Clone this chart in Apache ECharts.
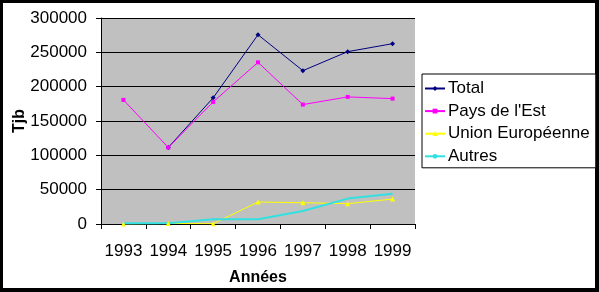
<!DOCTYPE html>
<html>
<head>
<meta charset="utf-8">
<script src="https://cdn.jsdelivr.net/npm/echarts@6/dist/echarts.min.js"></script>
<style>
html,body{margin:0;padding:0;background:#fff;}
#wrap{position:absolute;left:0;top:0;width:599px;height:292px;box-sizing:border-box;border-style:solid;border-color:#000;border-width:3px 4px 4px 3px;}
#chart{position:absolute;left:-3px;top:-3px;width:599px;height:292px;}
</style>
</head>
<body>
<div id="wrap"><div id="chart"></div></div>
<script>
const years = ['1993','1994','1995','1996','1997','1998','1999'];
const total = [null, 111500, 183700, 275600, 223300, 251000, 262600];
const paysEst = [180700, 111400, 177800, 235400, 173900, 185100, 182600];
const unionEuropeenne = [0, 800, 400, 32000, 31000, 29600, 36300];
const autres = [1200, 1200, 7000, 7000, 19000, 37000, 44000];
const yTicks = [0, 50000, 100000, 150000, 200000, 250000, 300000];

const font = 'Liberation Sans, Arial, sans-serif';
const chart = echarts.init(document.getElementById('chart'));
chart.setOption({
  animation: false,
  backgroundColor: 'transparent',
  textStyle: {fontFamily: font, color: '#000'},
  grid: {left: 101, top: 18, right: 184, bottom: 68, show: true, backgroundColor: '#C0C0C0', borderWidth: 0,
    containLabel: false, outerBoundsMode: 'none'},
  legend: {
    orient: 'vertical', left: 422, top: 74,
    backgroundColor: '#fff', borderColor: '#000', borderWidth: 1, borderRadius: 0,
    padding: [6, 6, 3, 2], itemWidth: 20, itemHeight: 6, itemGap: 5.6,
    textStyle: {fontFamily: font, fontSize: 17, color: '#000', padding: [0, 0, 0, -2]},
    data: ['Total', "Pays de l'Est", 'Union Européenne', 'Autres']
  },
  xAxis: {
    type: 'category', data: years, boundaryGap: true,
    name: 'Années', nameLocation: 'middle', nameGap: 46, nameMoveOverlap: false,
    nameTextStyle: {fontFamily: font, fontSize: 16, fontWeight: 'bold', color: '#000'},
    axisLine: {show: true, lineStyle: {color: '#000', width: 1}},
    axisTick: {show: true, inside: false, length: 5, alignWithLabel: false, lineStyle: {color: '#000'}},
    axisLabel: {fontFamily: font, fontSize: 17, color: '#000', margin: 19, interval: 0},
    splitLine: {show: false}
  },
  yAxis: {
    type: 'value', min: 0, max: 300000, interval: 50000,
    name: 'Tjb', nameLocation: 'middle', nameGap: 73, nameRotate: 90, nameMoveOverlap: false,
    nameTextStyle: {fontFamily: font, fontSize: 16, fontWeight: 'bold', color: '#000'},
    axisLine: {show: true, lineStyle: {color: '#000', width: 1}},
    axisTick: {show: true, inside: false, length: 5, lineStyle: {color: '#000'}},
    axisLabel: {fontFamily: font, fontSize: 17, color: '#000', margin: 14,
      formatter: v => yTicks.includes(v) ? String(v) : ''},
    splitLine: {show: true, lineStyle: {color: '#000', width: 1}}
  },
  series: [
    {name: 'Total', type: 'line', data: total, color: '#000080', symbol: 'diamond', symbolSize: 5,
      lineStyle: {width: 1, color: '#000080'}, itemStyle: {color: '#000080'}},
    {name: "Pays de l'Est", type: 'line', data: paysEst, color: '#FF00FF', symbol: 'rect', symbolSize: 4,
      lineStyle: {width: 1, color: '#FF00FF'}, itemStyle: {color: '#FF00FF'}},
    {name: 'Union Européenne', type: 'line', data: unionEuropeenne, color: '#FFFF00', symbol: 'triangle', symbolSize: 5,
      lineStyle: {width: 1, color: '#FFFF00'}, itemStyle: {color: '#FFFF00'}},
    {name: 'Autres', type: 'line', data: autres, color: '#00FFFF', symbol: 'none',
      lineStyle: {width: 2, color: '#33E0E0'}, itemStyle: {color: '#33E0E0'}}
  ]
});
</script>
</body>
</html>
